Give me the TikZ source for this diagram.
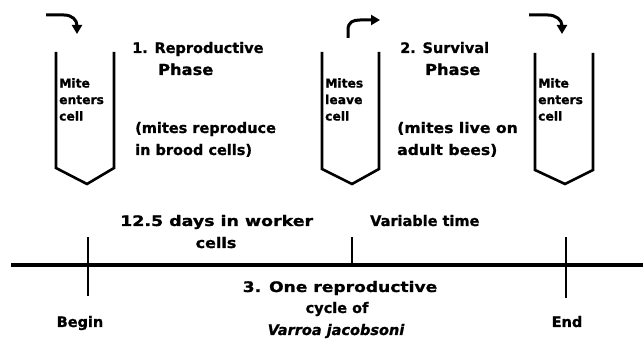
\documentclass[tikz,border=0pt]{standalone}
\usepackage{fontspec}
\setmainfont{DejaVu Sans}
\newfontfamily\heavyfont{DejaVu Sans}[FakeBold=1.0]
\usetikzlibrary{arrows.meta}
\tikzset{
  cellwall/.style={line width=2.6pt, line join=miter},
  turnarrow/.style={line width=3pt, -{Triangle[length=9pt,width=10pt]}},
  timeline/.style={line width=3.2pt},
  tickmark/.style={line width=2.6pt},
  bigtxt/.style={font=\heavyfont\fontsize{14.5}{18}\selectfont\bfseries, inner sep=0pt},
  celltxt/.style={font=\heavyfont\fontsize{12.3}{16.5}\selectfont\bfseries, inner sep=0pt, align=left},
}
\begin{document}
\begin{tikzpicture}[x=1pt,y=-1pt]
\useasboundingbox (0,0) rectangle (643,347);
% cells
\draw[cellwall] (56,52) -- (56,168) -- (87,184) -- (114,168) -- (114,52);
\draw[cellwall] (322,52) -- (322,169) -- (352,184) -- (379,169) -- (379,52);
\draw[cellwall] (535,53) -- (535,170) -- (565,184) -- (593,170) -- (593,53);
% cell texts
\node[celltxt, anchor=north west] (c1) at (59,78) {Mite\\enters\\cell};
\node[celltxt, anchor=north west] (c2) at (325,78) {Mites\\leave\\cell};
\node[celltxt, anchor=north west] (c3) at (538,78) {Mite\\enters\\cell};
% arrows
\coordinate (a1s) at (46,15); \coordinate (a1e) at (77,34);
\draw[turnarrow] (a1s) -- (64,15) .. controls (72,15) and (77,20) .. (a1e);
\coordinate (a2s) at (348,38); \coordinate (a2e) at (380,20);
\draw[turnarrow] (a2s) -- (348,30) .. controls (348,22) and (353,20) .. (360,20) -- (a2e);
\coordinate (a3s) at (529,15); \coordinate (a3e) at (562,34);
\draw[turnarrow] (a3s) -- (548,15) .. controls (556,15) and (562,20) .. (a3e);
% phase texts
\node[bigtxt, anchor=base west] (p1a) at (132,53) {1. Reproductive};
\node[bigtxt, anchor=base west] (p1b) at (158,75) {\scalebox{1.12}[1.05]{Phase}};
\node[bigtxt, anchor=base west] (p1c) at (135,133) {(mites reproduce};
\node[bigtxt, anchor=base west] (p1d) at (135,155) {in brood cells)};
\node[bigtxt, anchor=base west] (p2a) at (400,53) {2. Survival};
\node[bigtxt, anchor=base west] (p2b) at (425,75) {\scalebox{1.12}[1.05]{Phase}};
\node[bigtxt, anchor=base west] (p2c) at (397,133) {\scalebox{1.08}[1]{(mites live on}};
\node[bigtxt, anchor=base west] (p2d) at (397,155) {\scalebox{1.08}[1]{adult bees)}};
% timeline
\coordinate (tl) at (11,265); \coordinate (tr) at (643,265);
\draw[timeline] (tl) -- (tr);
\coordinate (b1) at (88,237); \coordinate (b2) at (88,296);
\coordinate (m1) at (352,237); \coordinate (m2) at (352,265);
\coordinate (e1) at (566,237); \coordinate (e2) at (566,298);
\draw[tickmark] (b1) -- (b2);
\draw[tickmark] (m1) -- (m2);
\draw[tickmark] (e1) -- (e2);
\node[bigtxt, anchor=base west] (d1) at (120,226) {\scalebox{1.2}[1]{12.5 days in worker}};
\node[bigtxt, anchor=base] (d2) at (216,248) {\scalebox{1.1}[1]{cells}};
\node[bigtxt, anchor=base west] (d3) at (370,226) {Variable time};
\node[bigtxt, anchor=base] (r1) at (340,292) {\scalebox{1.18}[1]{3. One reproductive}};
\node[bigtxt, anchor=base] (r2) at (337,313) {cycle of};
\node[bigtxt, anchor=base] (r3) at (336,335) {\itshape Varroa jacobsoni};
\node[bigtxt, anchor=base] (bg) at (80,327) {Begin};
\node[bigtxt, anchor=base] (en) at (567,327) {End};
\end{tikzpicture}
\end{document}
